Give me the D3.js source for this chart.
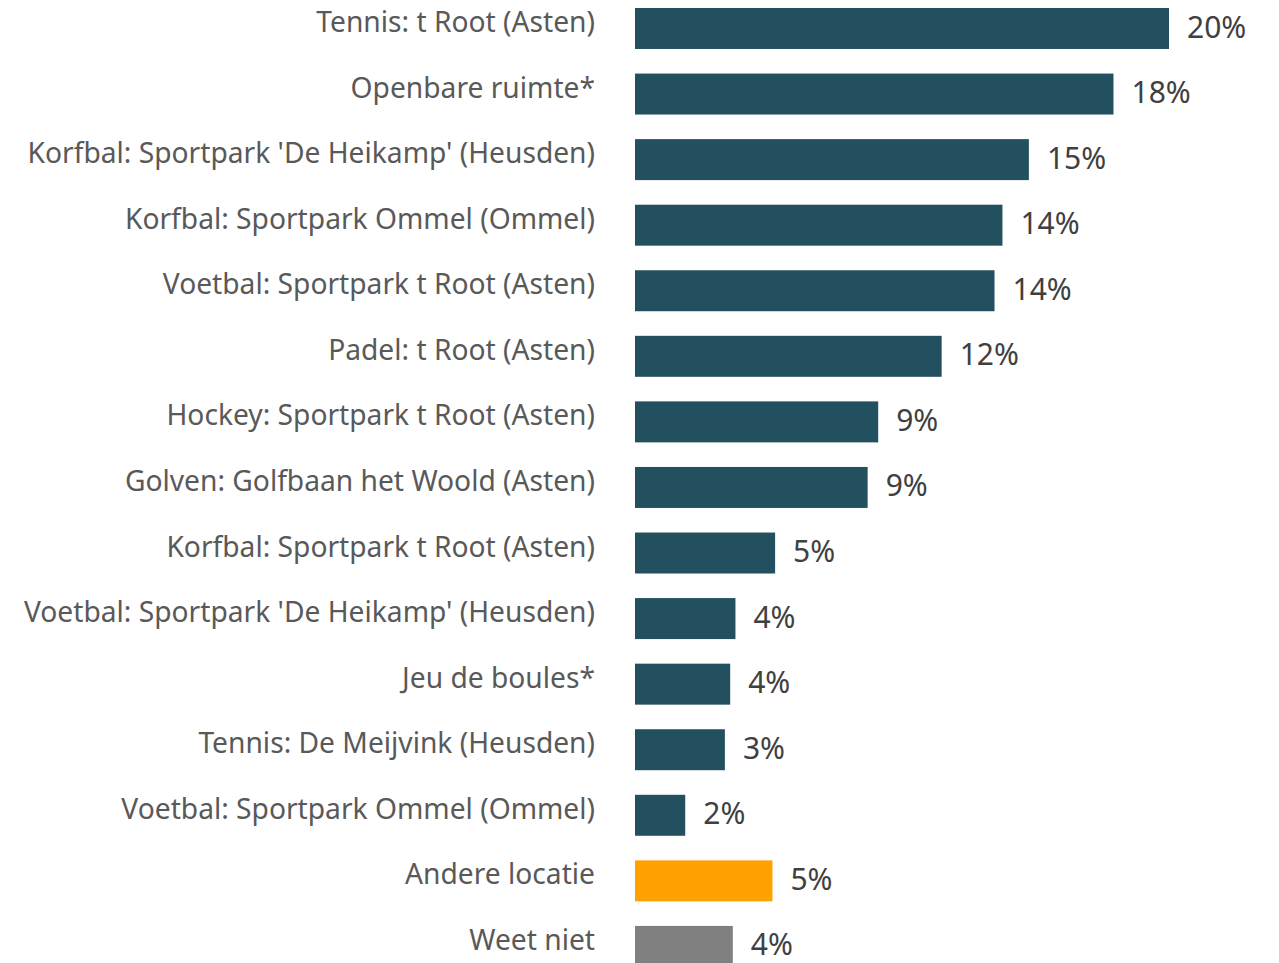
<!DOCTYPE html>
<html>
<head>
<meta charset="utf-8">
<script src="https://cdn.jsdelivr.net/npm/d3@7"></script>
<style>
  body { margin: 0; background: #fff; }
  svg { display: block; }
</style>
</head>
<body>
<div class="chart"></div>
<script>
// categorieen (van boven naar beneden)
var categories = [
    "Tennis: t Root (Asten)",
    "Openbare ruimte*",
    "Korfbal: Sportpark 'De Heikamp' (Heusden)",
    "Korfbal: Sportpark Ommel (Ommel)",
    "Voetbal: Sportpark t Root (Asten)",
    "Padel: t Root (Asten)",
    "Hockey: Sportpark t Root (Asten)",
    "Golven: Golfbaan het Woold (Asten)",
    "Korfbal: Sportpark t Root (Asten)",
    "Voetbal: Sportpark 'De Heikamp' (Heusden)",
    "Jeu de boules*",
    "Tennis: De Meijvink (Heusden)",
    "Voetbal: Sportpark Ommel (Ommel)",
    "Andere locatie",
    "Weet niet"
];
// percentages
var values = [20.2, 18.1, 14.9, 13.9, 13.6, 11.6, 9.2, 8.8, 5.3, 3.8, 3.6, 3.4, 1.9, 5.2, 3.7];
// soort balk: locatie / anders / weet niet
var groups = ["loc", "loc", "loc", "loc", "loc", "loc", "loc", "loc", "loc", "loc", "loc", "loc", "loc", "other", "dk"];

var width = 1279;
var height = 963;

var svg = d3.select(".chart")
    .append("svg")
    .attr("width", width)
    .attr("height", height);

var x = d3.scaleLinear()
    .domain([0, 20.2])
    .range([635, 1169]);

var y = d3.scaleBand()
    .domain(categories)
    .range([-4.3, 979.2])
    .paddingInner(0.375)
    .paddingOuter(0.1875);

var color = d3.scaleOrdinal()
    .domain(["loc", "other", "dk"])
    .range(["#23505f", "#ffa200", "#808080"]);

var fmt = function (d) { return d3.format(".0f")(d) + "%"; };

var rows = categories.map(function (c, i) {
    return { cat: c, val: values[i], grp: groups[i] };
});

svg.selectAll("rect")
    .data(rows)
    .enter()
    .append("rect")
    .attr("x", x(0))
    .attr("y", function (d) { return y(d.cat); })
    .attr("width", function (d) { return x(d.val) - x(0); })
    .attr("height", y.bandwidth())
    .attr("fill", function (d) { return color(d.grp); });

// categorie labels
svg.selectAll("text.cat")
    .data(rows)
    .enter()
    .append("text")
    .attr("class", "cat")
    .attr("x", 595)
    .attr("y", function (d) { return y(d.cat) + y.bandwidth() / 2 - 4; })
    .attr("text-anchor", "end")
    .attr("dominant-baseline", "middle")
    .style("font-family", "'Noto Sans', 'Open Sans', sans-serif")
    .style("font-size", "28.2px")
    .style("fill", "#595959")
    .text(function (d) { return d.cat; });

// waarde labels
svg.selectAll("text.val")
    .data(rows)
    .enter()
    .append("text")
    .attr("class", "val")
    .attr("x", function (d) { return x(d.val) + 18; })
    .attr("y", function (d) { return y(d.cat) + y.bandwidth() / 2 + 1; })
    .attr("dominant-baseline", "middle")
    .style("font-family", "'Noto Sans', 'Open Sans', sans-serif")
    .style("font-size", "30px")
    .style("fill", "#404040")
    .text(function (d) { return fmt(d.val); });
</script>
</body>
</html>
